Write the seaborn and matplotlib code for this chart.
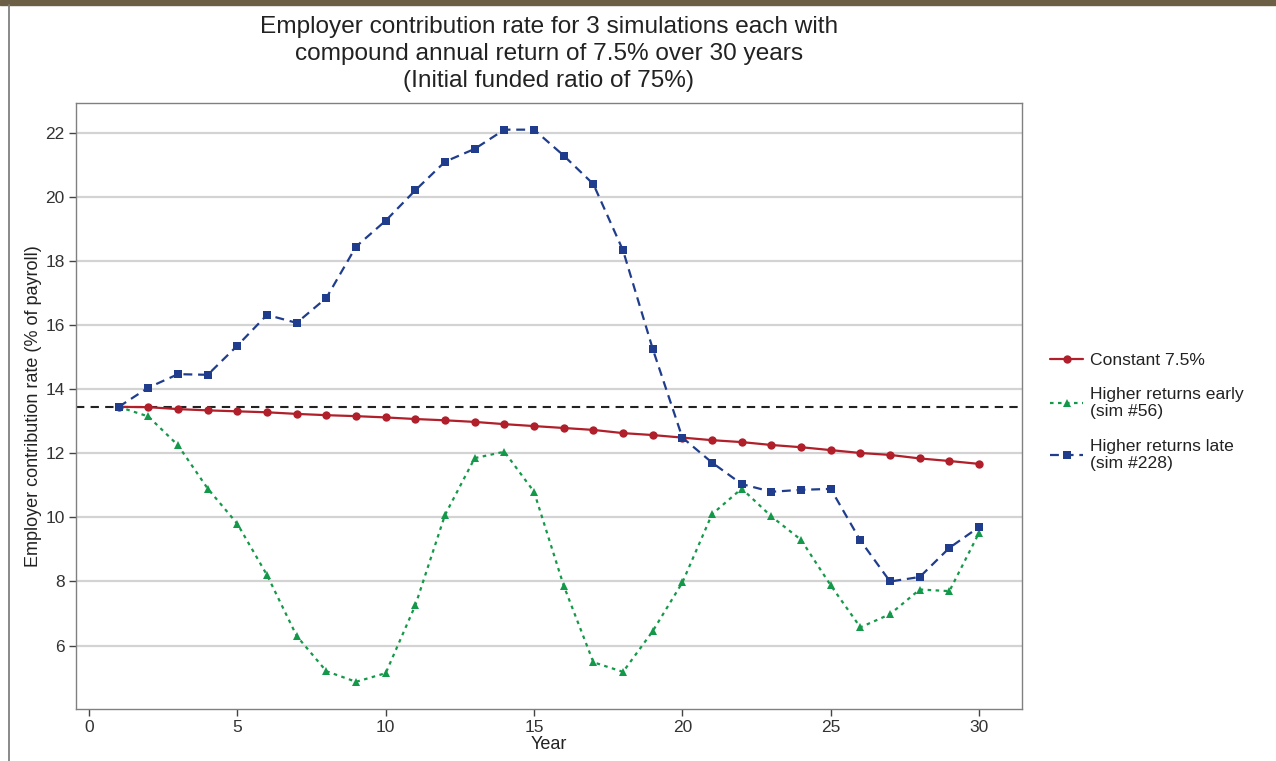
import pandas as pd
import numpy as np
import matplotlib.pyplot as plt
import seaborn as sns
from matplotlib.patches import Rectangle
from matplotlib.lines import Line2D

# Data
years = list(range(1, 31))
constant = [13.45, 13.44, 13.38, 13.34, 13.31, 13.28, 13.23, 13.19, 13.16, 13.12,
            13.07, 13.03, 12.98, 12.91, 12.85, 12.79, 12.73, 12.63, 12.57, 12.49,
            12.41, 12.35, 12.26, 12.19, 12.10, 12.01, 11.95, 11.84, 11.76, 11.67]
early = [13.45, 13.15, 12.25, 10.90, 9.80, 8.20, 6.30, 5.20, 4.87, 5.14,
         7.26, 10.08, 11.85, 12.05, 10.80, 7.87, 5.48, 5.18, 6.45, 7.97,
         10.10, 10.90, 10.03, 9.30, 7.88, 6.57, 6.98, 7.75, 7.70, 9.52]
late = [13.45, 14.05, 14.47, 14.45, 15.36, 16.32, 16.07, 16.85, 18.45, 19.26,
        20.21, 21.10, 21.50, 22.10, 22.10, 21.29, 20.40, 18.33, 15.26, 12.49,
        11.71, 11.04, 10.80, 10.86, 10.89, 9.28, 8.00, 8.14, 9.05, 9.70]
baseline = 13.45

series_names = ['Constant 7.5%', 'Higher returns early\n(sim #56)', 'Higher returns late\n(sim #228)']
colors = ['#b01f2a', '#14994a', '#1f3d8c']
markers = ['o', '^', 's']
dashes = ['', (1.6, 2.0), (4.0, 2.6)]

df = pd.DataFrame({
    'Year': years * 3,
    'rate': constant + early + late,
    'series': [series_names[0]] * 30 + [series_names[1]] * 30 + [series_names[2]] * 30,
})

sns.set_style('white')
plt.rcParams['font.family'] = ['Liberation Sans', 'DejaVu Sans']

fig = plt.figure(figsize=(12.76, 7.61), dpi=100)
ax = fig.add_axes([0.0593, 0.0687, 0.7417, 0.7963])

ax.axhline(baseline, color='#222222', lw=1.5, dashes=(4.0, 3.0), zorder=1)
sns.lineplot(data=df, x='Year', y='rate', hue='series', style='series',
             hue_order=series_names, style_order=series_names,
             palette=dict(zip(series_names, colors)),
             markers=dict(zip(series_names, markers)),
             dashes=dict(zip(series_names, dashes)),
             markersize=6, markeredgewidth=0, lw=1.6, ax=ax, zorder=3)

ax.set_xlim(-0.45, 31.45)
ax.set_ylim(4.03, 22.94)
ax.set_xticks(range(0, 31, 5))
ax.set_yticks(range(6, 23, 2))
ax.yaxis.grid(True, color='#d3d3d3', lw=1.6)
ax.xaxis.grid(False)
ax.set_axisbelow(True)
for s in ax.spines.values():
    s.set_color('#808080')
    s.set_linewidth(1.0)
ax.tick_params(axis='both', which='both', bottom=True, left=True, length=5,
               width=1.0, color='#444444', labelsize=12.5, labelcolor='#333333', pad=3)

ax.set_xlabel('Year', fontsize=13, color='#222222', labelpad=1)
ax.set_ylabel('Employer contribution rate (% of payroll)', fontsize=13, color='#222222', labelpad=2)
ax.set_title('Employer contribution rate for 3 simulations each with\n'
             'compound annual return of 7.5% over 30 years\n'
             '(Initial funded ratio of 75%)',
             fontsize=17.6, color='#222222', pad=11, linespacing=1.32)

leg = ax.legend(loc='center left', bbox_to_anchor=(1.013, 0.49), frameon=False,
                fontsize=12.6, handlelength=1.9, labelspacing=1.1, handletextpad=0.4,
                title=None)
for t in leg.get_texts():
    t.set_color('#222222')

# page decoration around the chart
fig.patches.append(Rectangle((0, 1 - 5 / 761), 1, 5 / 761, transform=fig.transFigure,
                             color='#6b5f45', zorder=0))
fig.lines.append(Line2D([9 / 1276, 9 / 1276], [0, 1 - 5 / 761], transform=fig.transFigure,
                        color='#808080', lw=1.3))

plt.savefig('out.png', dpi=100)
plt.close()
